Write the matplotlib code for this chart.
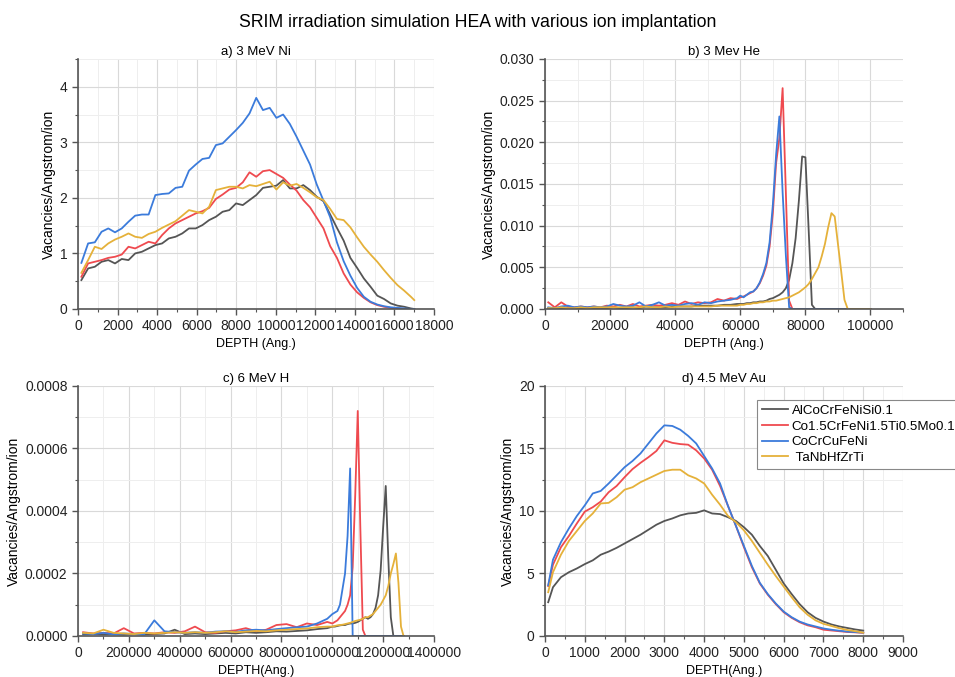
import matplotlib
matplotlib.use('Agg')
import matplotlib.pyplot as plt
from matplotlib.ticker import MultipleLocator, FormatStrFormatter

plt.rcParams['font.family'] = ['Liberation Sans', 'DejaVu Sans']

names = ['AlCoCrFeNiSi0.1', 'Co1.5CrFeNi1.5Ti0.5Mo0.1', 'CoCrCuFeNi', ' TaNbHfZrTi']
colors = ['#555555', '#ef4a4f', '#3b7bdb', '#e5b13a']

# a) 3 MeV Ni
ni_depth = [170, 510, 850, 1190, 1530, 1870, 2210, 2550, 2890, 3230, 3570, 3910, 4250, 4590, 4930,
            5270, 5610, 5950, 6290, 6630, 6970, 7310, 7650, 7990, 8330, 8670, 9010, 9350, 9690,
            10030, 10370, 10710, 11050, 11390, 11730, 12070, 12410, 12750, 13090, 13430, 13770,
            14110, 14450, 14790, 15130, 15470, 15810, 16150, 16490, 16830, 17000]
ni_alco = [0.52, 0.73, 0.76, 0.85, 0.88, 0.82, 0.90, 0.88, 1.00, 1.03, 1.09, 1.15, 1.18, 1.27, 1.30,
           1.36, 1.45, 1.45, 1.51, 1.60, 1.66, 1.75, 1.78, 1.90, 1.87, 1.96, 2.05, 2.18, 2.20,
           2.22, 2.32, 2.17, 2.17, 2.23, 2.14, 2.02, 1.94, 1.70, 1.46, 1.23, 0.92,
           0.74, 0.55, 0.40, 0.24, 0.18, 0.10, 0.06, 0.04, 0.01, 0.0]
ni_co15 = [0.58, 0.82, 0.85, 0.88, 0.92, 0.94, 0.98, 1.12, 1.09, 1.15, 1.21, 1.18, 1.33, 1.45, 1.54,
           1.60, 1.66, 1.72, 1.76, 1.82, 1.98, 2.06, 2.15, 2.18, 2.28, 2.46, 2.38, 2.48, 2.50,
           2.43, 2.36, 2.24, 2.13, 1.96, 1.83, 1.64, 1.45, 1.13, 0.92, 0.64, 0.44,
           0.30, 0.20, 0.12, 0.07, 0.04, 0.02, 0.01, 0.0, 0.0, 0.0]
ni_cocr = [0.83, 1.18, 1.20, 1.39, 1.45, 1.38, 1.45, 1.57, 1.68, 1.70, 1.70, 2.05, 2.07, 2.08, 2.18,
           2.20, 2.49, 2.60, 2.70, 2.72, 2.95, 2.98, 3.10, 3.22, 3.35, 3.52, 3.80, 3.58, 3.62,
           3.44, 3.50, 3.33, 3.10, 2.85, 2.60, 2.24, 1.95, 1.65, 1.20, 0.86, 0.60,
           0.38, 0.22, 0.13, 0.08, 0.05, 0.03, 0.02, 0.01, 0.0, 0.0]
ni_tanb = [0.65, 0.88, 1.12, 1.08, 1.18, 1.25, 1.30, 1.36, 1.30, 1.28, 1.35, 1.39, 1.46, 1.52, 1.58,
           1.68, 1.78, 1.75, 1.72, 1.84, 2.14, 2.17, 2.20, 2.20, 2.17, 2.23, 2.21, 2.25, 2.29,
           2.15, 2.28, 2.22, 2.25, 2.18, 2.10, 2.01, 1.96, 1.80, 1.62, 1.60, 1.47,
           1.29, 1.12, 0.98, 0.85, 0.70, 0.56, 0.43, 0.33, 0.22, 0.16]

# b) 3 MeV He
he_depth = [1000, 3000, 5000, 7000, 9000, 11000, 13000, 15000, 17000, 19000, 21000, 23000, 25000,
            27000, 29000, 31000, 33000, 35000, 37000, 39000, 41000, 43000, 45000, 47000, 49000,
            51000, 53000, 55000, 57000, 59000,
            60000, 61000, 62000, 63000, 64000, 65000, 66000, 67000, 68000, 69000, 70000, 71000,
            72000, 73000, 74000, 75000, 76000, 77000, 78000, 79000, 80000, 81000, 82000, 83000,
            84000, 85000, 86000, 87000, 88000, 89000, 90000, 91000, 92000, 93000, 94000,
            96000, 98000, 100000]
he_alco = [0.0001, 0.0001, 0.0001, 0.0001, 0.0001, 0.0001, 0.0001, 0.0001, 0.0001, 0.0001, 0.0002,
           0.0001, 0.0001, 0.0002, 0.0001, 0.0003, 0.0002, 0.0002, 0.0002, 0.0003, 0.0003, 0.0003,
           0.0003, 0.0004, 0.0004, 0.0004, 0.0004, 0.0005, 0.0005, 0.0006,
           0.0006, 0.0006, 0.0007, 0.0007, 0.0008, 0.0008, 0.0009, 0.0009, 0.0010, 0.0012, 0.0013,
           0.0015, 0.0017, 0.0020, 0.0025, 0.0035, 0.0055, 0.0085, 0.0130, 0.0183, 0.0182, 0.0095,
           0.0005, 0, 0, 0, 0, 0, 0, 0, 0, 0, 0, 0, 0,
           0, 0, 0]
he_co15 = [0.0008, 0.0002, 0.0008, 0.0003, 0.0002, 0.0003, 0.0002, 0.0003, 0.0002, 0.0004, 0.0003,
           0.0005, 0.0003, 0.0006, 0.0003, 0.0004, 0.0005, 0.0004, 0.0005, 0.0007, 0.0005, 0.0009,
           0.0006, 0.0008, 0.0007, 0.0008, 0.0012, 0.0010, 0.0013, 0.0012,
           0.0014, 0.0015, 0.0017, 0.0019, 0.0021, 0.0025, 0.0031, 0.0040, 0.0052, 0.0075, 0.0115,
           0.0175, 0.0205, 0.0265, 0.0139, 0.0010, 0, 0, 0, 0, 0, 0, 0, 0, 0, 0, 0, 0, 0, 0, 0, 0,
           0, 0, 0,
           0, 0, 0]
he_cocr = [0.0002, 0.0001, 0.0003, 0.0004, 0.0002, 0.0003, 0.0002, 0.0003, 0.0002, 0.0003, 0.0006,
           0.0004, 0.0003, 0.0004, 0.0008, 0.0003, 0.0005, 0.0008, 0.0004, 0.0005, 0.0004, 0.0006,
           0.0007, 0.0005, 0.0008, 0.0007, 0.0009, 0.0010, 0.0011, 0.0013,
           0.0016, 0.0014, 0.0017, 0.0020, 0.0021, 0.0025, 0.0032, 0.0042, 0.0055, 0.0080, 0.0125,
           0.0185, 0.0231, 0.0140, 0.0064, 0.0002, 0, 0, 0, 0, 0, 0, 0, 0, 0, 0, 0, 0, 0, 0, 0, 0,
           0, 0, 0,
           0, 0, 0]
he_tanb = [0.0001, 0.0001, 0.0002, 0.0001, 0.0001, 0.0002, 0.0001, 0.0002, 0.0002, 0.0002, 0.0002,
           0.0002, 0.0002, 0.0002, 0.0002, 0.0003, 0.0002, 0.0002, 0.0003, 0.0002, 0.0003, 0.0003,
           0.0003, 0.0003, 0.0003, 0.0003, 0.0004, 0.0004, 0.0004, 0.0004,
           0.0005, 0.0005, 0.0006, 0.0006, 0.0007, 0.0007, 0.0008, 0.0008, 0.0009, 0.0009, 0.0010,
           0.0010, 0.0011, 0.0012, 0.0013, 0.0014, 0.0016, 0.0018, 0.0020, 0.0023, 0.0026, 0.0030,
           0.0036, 0.0043, 0.0050, 0.0063, 0.0078, 0.0098, 0.0115, 0.0111, 0.0078, 0.0045, 0.0011,
           0, 0,
           0, 0, 0]

# c) 6 MeV H
h_depth = [20000, 60000, 100000, 140000, 180000, 220000, 260000, 300000, 340000, 380000, 420000,
           460000, 500000, 540000, 580000, 620000, 660000, 700000, 740000, 780000, 820000, 860000,
           900000, 940000, 980000,
           1000000, 1010000, 1020000, 1030000, 1040000, 1050000, 1060000, 1070000, 1080000,
           1090000, 1100000, 1110000, 1120000, 1130000, 1140000, 1150000, 1160000, 1170000,
           1180000, 1190000, 1200000, 1210000, 1220000, 1230000, 1240000, 1250000, 1260000,
           1270000, 1280000]
h_alco = [0.000005, 0.000006, 0.000005, 0.000006, 0.000004, 0.000006, 0.000005, 0.000006, 0.000008,
          0.000020, 0.000006, 0.000008, 0.000006, 0.000008, 0.000010, 0.000008, 0.000012, 0.000010,
          0.000012, 0.000015, 0.000014, 0.000016, 0.000018, 0.000022, 0.000025,
          0.00003, 0.00003, 0.000032, 0.000034, 0.000035, 0.000035, 0.000038, 0.00004, 0.00004,
          0.000042, 0.000045, 0.00005, 0.000055, 0.00006, 0.000055, 0.00006, 0.00007, 0.00009,
          0.00013, 0.00021, 0.00035, 0.00048, 0.00025, 0.00006, 0.0, 0.0, 0.0, 0.0, 0.0]
h_co15 = [0.000012, 0.000008, 0.000010, 0.000008, 0.000025, 0.000008, 0.000010, 0.000008, 0.000012,
          0.000010, 0.000015, 0.000030, 0.000012, 0.000010, 0.000015, 0.000018, 0.000025, 0.000015,
          0.000020, 0.000035, 0.000038, 0.000028, 0.000040, 0.000035, 0.000045,
          0.00004, 0.000045, 0.00005, 0.00006, 0.00007, 0.00008, 0.0001, 0.00013, 0.00022,
          0.00045, 0.00072, 0.00035, 0.00002, 0.0, 0.0, 0.0, 0.0, 0.0,
          0.0, 0.0, 0.0, 0.0, 0.0, 0.0, 0.0, 0.0, 0.0, 0.0, 0.0]
h_cocr = [0.000008, 0.000006, 0.000010, 0.000005, 0.000008, 0.000006, 0.000005, 0.000050, 0.000015,
          0.000012, 0.000010, 0.000012, 0.000010, 0.000014, 0.000015, 0.000013, 0.000018, 0.000020,
          0.000018, 0.000022, 0.000025, 0.000028, 0.000030, 0.000040, 0.000055,
          0.00007, 0.000075, 0.00008, 0.0001, 0.00015, 0.0002, 0.00032, 0.000536, 0.0,
          0.0, 0.0, 0.0, 0.0, 0.0, 0.0, 0.0, 0.0, 0.0,
          0.0, 0.0, 0.0, 0.0, 0.0, 0.0, 0.0, 0.0, 0.0, 0.0, 0.0]
h_tanb = [0.000010, 0.000008, 0.000020, 0.000010, 0.000008, 0.000006, 0.000010, 0.000008, 0.000010,
          0.000012, 0.000010, 0.000012, 0.000010, 0.000012, 0.000015, 0.000012, 0.000014, 0.000016,
          0.000015, 0.000018, 0.000020, 0.000022, 0.000024, 0.000028, 0.000030,
          0.00003, 0.000032, 0.000034, 0.000035, 0.000036, 0.000038, 0.00004, 0.000042, 0.000045,
          0.000048, 0.00005, 0.000052, 0.000055, 0.00006, 0.00006, 0.000065, 0.00007, 0.00008,
          0.00009, 0.0001, 0.000115, 0.00013, 0.00016, 0.0002, 0.00023, 0.000264, 0.00017,
          0.00003, 0.0]

# d) 4.5 MeV Au
au_depth = [80, 200, 400, 600, 800, 1000, 1200, 1400, 1600, 1800, 2000, 2200, 2400, 2600, 2800,
            3000, 3200, 3400, 3600, 3800, 4000, 4200, 4400, 4600, 4800, 5000, 5200, 5400, 5600,
            5800, 6000, 6200, 6400, 6600, 6800, 7000, 7200, 7400, 7600, 7800, 8000]
au_alco = [2.7, 3.9, 4.7, 5.1, 5.4, 5.75, 6.05, 6.5, 6.75, 7.05, 7.4, 7.75, 8.1, 8.5, 8.9,
           9.2, 9.4, 9.65, 9.8, 9.85, 10.05, 9.8, 9.75, 9.5, 9.2, 8.7, 8.1, 7.2, 6.4,
           5.3, 4.2, 3.35, 2.55, 1.9, 1.45, 1.15, 0.92, 0.76, 0.64, 0.52, 0.43]
au_co15 = [4.0, 5.7, 7.1, 8.0, 9.0, 9.95, 10.3, 10.75, 11.5, 12.0, 12.7, 13.35, 13.85, 14.3, 14.8,
           15.65, 15.45, 15.35, 15.3, 14.85, 14.2, 13.3, 12.0, 10.4, 8.8, 7.1, 5.5, 4.2, 3.3,
           2.55, 1.9, 1.45, 1.1, 0.85, 0.7, 0.5, 0.44, 0.38, 0.32, 0.29, 0.25]
au_cocr = [4.05, 6.1, 7.5, 8.6, 9.6, 10.45, 11.4, 11.6, 12.2, 12.85, 13.5, 14.0, 14.6, 15.4, 16.2,
           16.85, 16.8, 16.5, 16.0, 15.4, 14.4, 13.4, 12.2, 10.4, 8.8, 7.2, 5.6, 4.25, 3.35,
           2.6, 1.95, 1.5, 1.15, 0.92, 0.76, 0.6, 0.5, 0.42, 0.35, 0.31, 0.27]
au_tanb = [3.5, 5.1, 6.5, 7.6, 8.4, 9.2, 9.8, 10.6, 10.65, 11.1, 11.7, 11.9, 12.3, 12.6, 12.9,
           13.2, 13.3, 13.3, 12.85, 12.6, 12.2, 11.3, 10.5, 9.6, 9.1, 8.45, 7.6, 6.65, 5.7,
           4.8, 3.95, 3.1, 2.3, 1.7, 1.25, 0.97, 0.8, 0.62, 0.48, 0.38, 0.27]

fig = plt.figure(figsize=(9.55, 6.77), dpi=100)
fig.suptitle('SRIM irradiation simulation HEA with various ion implantation',
             fontsize=12.7, y=0.967, va='center')

panels = [
    ([0.0817, 0.5436, 0.3728, 0.3693], 'a) 3 MeV Ni', 'DEPTH (Ang.)', ni_depth,
     [ni_alco, ni_co15, ni_cocr, ni_tanb], (0, 18000), 2000, 1000, '%d', (0, 4.5), 1, 0.5, '%d'),
    ([0.5707, 0.5436, 0.3749, 0.3693], 'b) 3 Mev He', 'DEPTH (Ang.)', he_depth,
     [he_alco, he_co15, he_cocr, he_tanb], (0, 110000), 20000, 10000, '%d', (0, 0.030), 0.005, 0.0025, '%.3f'),
    ([0.0817, 0.0606, 0.3728, 0.3693], 'c) 6 MeV H', 'DEPTH(Ang.)', h_depth,
     [h_alco, h_co15, h_cocr, h_tanb], (0, 1400000), 200000, 100000, '%d', (0, 0.0008), 0.0002, 0.0001, '%.4f'),
    ([0.5707, 0.0606, 0.3749, 0.3693], 'd) 4.5 MeV Au', 'DEPTH(Ang.)', au_depth,
     [au_alco, au_co15, au_cocr, au_tanb], (0, 9000), 1000, 500, '%d', (0, 20), 5, 2.5, '%d'),
]

axes = []
for (pos, title, xlab, depth, series, xl, xmaj, xmin, xfmt, yl, ymaj, ymin, yfmt) in panels:
    ax = fig.add_axes(pos)
    for vals, name, c in zip(series, names, colors):
        ax.plot(depth, vals, color=c, lw=1.3, label=name)
    ax.set_xlim(*xl)
    ax.set_ylim(*yl)
    ax.xaxis.set_major_locator(MultipleLocator(xmaj))
    ax.xaxis.set_minor_locator(MultipleLocator(xmin))
    ax.yaxis.set_major_locator(MultipleLocator(ymaj))
    ax.yaxis.set_minor_locator(MultipleLocator(ymin))
    ax.xaxis.set_major_formatter(FormatStrFormatter(xfmt))
    ax.yaxis.set_major_formatter(FormatStrFormatter(yfmt))
    ax.grid(True, which='major', color='#d9d9d9', lw=0.8)
    ax.grid(True, which='minor', color='#eeeeee', lw=0.7)
    ax.set_axisbelow(True)
    for s in ['top', 'right']:
        ax.spines[s].set_visible(False)
    for s in ['left', 'bottom']:
        ax.spines[s].set_color('#555555')
        ax.spines[s].set_linewidth(1.2)
    ax.tick_params(which='major', direction='out', length=4, width=1, color='#555555',
                   labelsize=10, labelcolor='#222222')
    ax.tick_params(which='minor', direction='out', length=2.5, width=0.8, color='#555555')
    ax.set_title(title, fontsize=9.5, pad=3)
    ax.set_xlabel(xlab, fontsize=9, labelpad=3)
    ax.set_ylabel('Vacancies/Angstrom/ion', fontsize=10, labelpad=3)
    axes.append(ax)

leg = axes[3].legend(loc='upper left', bbox_to_anchor=(0.592, 0.944), borderaxespad=0,
                     fontsize=9.6, fancybox=False, edgecolor='#888888', framealpha=1,
                     handlelength=2.0, handletextpad=0.25, labelspacing=0.25, borderpad=0.35)
leg.get_frame().set_linewidth(0.8)

fig.savefig('out.png', dpi=100)
